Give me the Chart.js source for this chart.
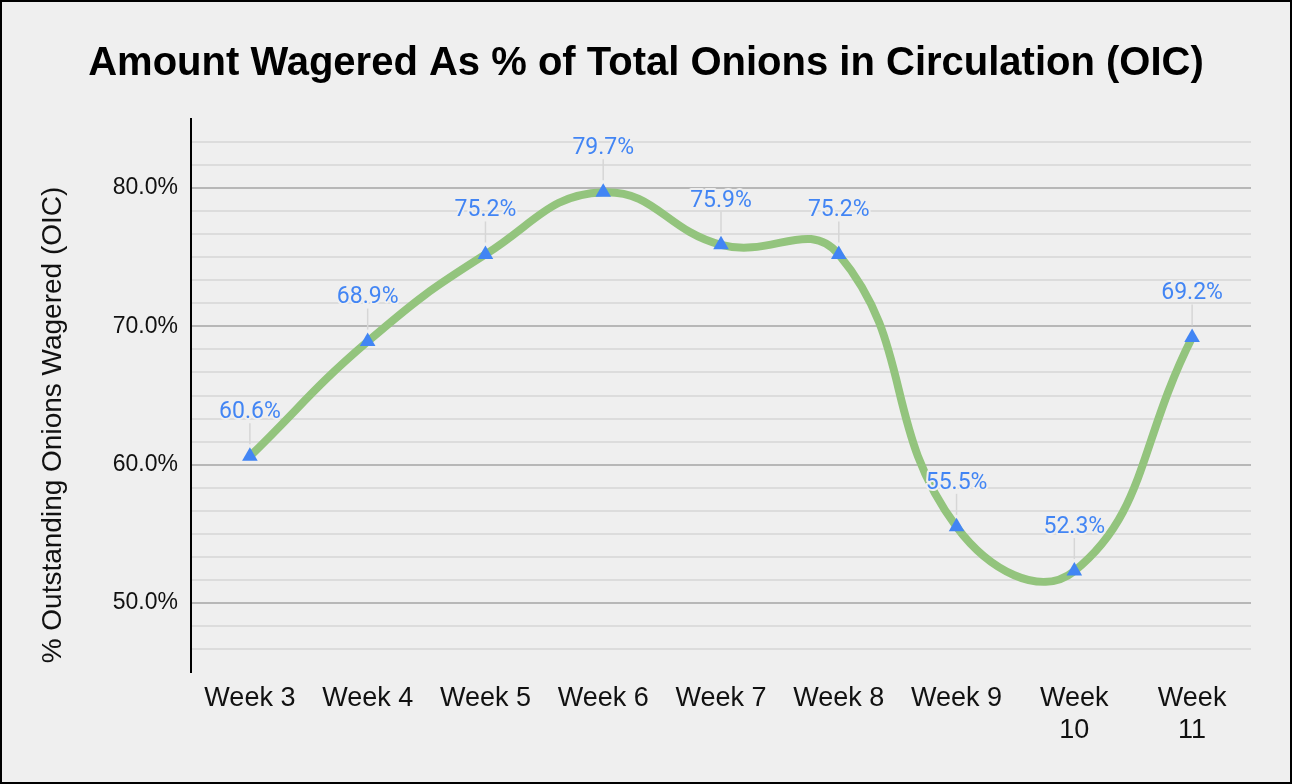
<html>

<head>
	<meta charset="utf-8">
	<script src="https://cdn.jsdelivr.net/npm/chart.js@4.4.1/dist/chart.umd.min.js"></script>
	<title>Amount Wagered As % of Total Onions in Circulation (OIC)</title>
	<style>
		body { margin: 0; background: #efefef; }
	</style>
</head>

<body>

	<canvas id="line-chart" width="1292" height="784"></canvas>
	<script>

	// data
	var weeks = ['Week 3', 'Week 4', 'Week 5', 'Week 6', 'Week 7', 'Week 8', 'Week 9', 'Week 10', 'Week 11'];
	var wagered = [60.6, 68.9, 75.2, 79.7, 75.9, 75.2, 55.5, 52.3, 69.2];
	var yMin = 45, yMax = 85;
	var majorTicks = [50, 60, 70, 80];
	var minorPerMajor = 6;   // gridlines every 10/6 %

	var chartTitle = 'Amount Wagered As % of Total Onions in Circulation (OIC)';
	var yTitle = '% Outstanding Onions Wagered (OIC)';

	var BG = '#efefef';
	var BLUE = '#4285f4';
	var GREEN = '#93c47d';

	function isMajor(v) {
		return majorTicks.some(function(m) { return Math.abs(m - v) < 0.01; });
	}

	// background + frame
	var framePlugin = {
		id: 'frame',
		beforeDraw: function(chart) {
			var c = chart.ctx;
			c.save();
			c.fillStyle = BG;
			c.fillRect(0, 0, chart.width, chart.height);
			c.restore();
		},
		afterDraw: function(chart) {
			var c = chart.ctx;
			c.save();
			c.strokeStyle = '#000';
			c.lineWidth = 2;
			c.strokeRect(1, 1, chart.width - 2, chart.height - 2);
			// y axis title (sits a bit below the axis centre in the original)
			c.translate(53, 425);
			c.rotate(-Math.PI / 2);
			c.fillStyle = '#111';
			c.font = '28px "Liberation Sans", Arial, sans-serif';
			c.textAlign = 'center';
			c.textBaseline = 'middle';
			c.fillText(yTitle, 0, 0);
			c.restore();
		}
	};

	// value labels with a small leader line
	var valueLabels = {
		id: 'valueLabels',
		afterDatasetsDraw: function(chart) {
			var c = chart.ctx;
			var meta = chart.getDatasetMeta(0);
			c.save();
			c.font = '23px Roboto, sans-serif';
			c.textAlign = 'center';
			c.textBaseline = 'middle';
			meta.data.forEach(function(pt, i) {
				c.strokeStyle = '#d6d6d6';
				c.lineWidth = 1.5;
				c.beginPath();
				c.moveTo(pt.x, pt.y - 12);
				c.lineTo(pt.x, pt.y - 33);
				c.stroke();

				var txt = wagered[i].toFixed(1) + '%';
				c.strokeStyle = BG;
				c.lineWidth = 4;
				c.lineJoin = 'round';
				c.strokeText(txt, pt.x, pt.y - 44);
				c.fillStyle = BLUE;
				c.fillText(txt, pt.x, pt.y - 44);
			});
			c.restore();
		}
	};

	var ctx = document.getElementById('line-chart').getContext('2d');
	var chart = new Chart(ctx, {
		type: 'line',
		data: {
			labels: weeks,
			datasets: [{
				data: wagered,
				borderColor: GREEN,
				borderWidth: 8,
				tension: 0.45,
				pointStyle: 'triangle',
				pointRadius: 9,
				pointBackgroundColor: BLUE,
				pointBorderWidth: 0,
				fill: false
			}]
		},
		options: {
			responsive: false,
			animation: false,
			layout: { padding: { left: 41, right: 41, top: 0, bottom: 2 } },
			plugins: {
				legend: { display: false },
				tooltip: { enabled: false },
				title: {
					display: true,
					text: chartTitle,
					color: '#000',
					font: { family: '"Liberation Sans", Arial, sans-serif', size: 40, weight: 'bold' },
					padding: { top: 40, bottom: 31 }
				}
			},
			scales: {
				x: {
					offset: true,
					grid: { display: false, drawTicks: false },
					border: { display: false },
					ticks: {
						color: '#111',
						font: { family: '"Liberation Sans", Arial, sans-serif', size: 27 },
						padding: 10,
						maxRotation: 0,
						autoSkip: false,
						callback: function(value) {
							var l = weeks[value];
							return l.length > 6 ? l.split(' ') : l;
						}
					},
					afterFit: function(scale) { scale.height = 784 - 672 - 2; }
				},
				y: {
					min: yMin,
					max: yMax,
					afterBuildTicks: function(scale) {
						var ticks = [];
						var step = 10 / minorPerMajor;
						var n = Math.round((yMax - yMin) / step);
						for (var i = 0; i <= n; i++) {
							ticks.push({ value: Math.round((yMin + i * step) * 1000) / 1000 });
						}
						scale.ticks = ticks;
					},
					afterFit: function(scale) { scale.width = 191 - 41; },
					border: { display: true, color: '#000', width: 2 },
					grid: {
						drawTicks: false,
						color: function(c) {
							var v = c.tick ? c.tick.value : null;
							if (v === null || v <= yMin || v >= yMax) return 'rgba(0,0,0,0)';
							return isMajor(v) ? '#b7b7b7' : '#dcdcdc';
						},
						lineWidth: 2
					},
					ticks: {
						autoSkip: false,
						color: '#111',
						font: { family: '"Liberation Sans", Arial, sans-serif', size: 23 },
						padding: 13,
						callback: function(value) {
							return isMajor(value) ? value.toFixed(1) + '%' : '';
						}
					}
				}
			}
		},
		plugins: [framePlugin, valueLabels]
	});

	</script>
</body>

</html>
